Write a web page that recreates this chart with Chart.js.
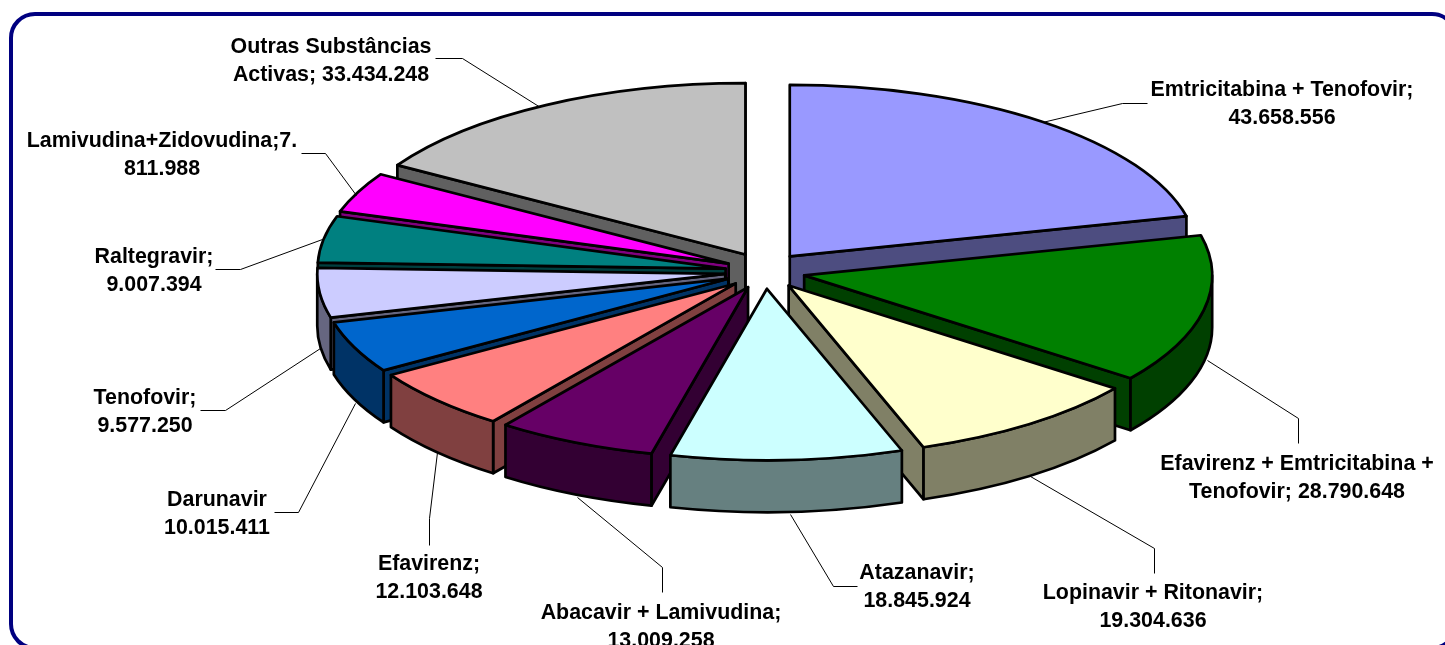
<!DOCTYPE html>
<html>
<head>
<meta charset="utf-8">
<title>Substâncias activas</title>
<script src="https://cdn.jsdelivr.net/npm/chart.js@4"></script>
<style>
  html, body { margin: 0; padding: 0; background: #fff; overflow: hidden; }
  #wrap { position: relative; width: 1445px; height: 645px; }
</style>
</head>
<body>
<div id="wrap"><canvas id="pie"></canvas></div>
<script>
// Data, clockwise from 12 o'clock
const categories = ['Emtricitabina + Tenofovir', 'Efavirenz + Emtricitabina + Tenofovir', 'Lopinavir + Ritonavir',
    'Atazanavir', 'Abacavir + Lamivudina', 'Efavirenz', 'Darunavir', 'Tenofovir', 'Raltegravir',
    'Lamivudina+Zidovudina', 'Outras Substâncias Activas'];
const values = [43658556, 28790648, 19304636, 18845924, 13009258, 12103648, 10015411, 9577250, 9007394, 7811988, 33434248];
const topColors = ['#9999FF', '#008000', '#FFFFCC', '#CCFFFF', '#660066', '#FF8080', '#0066CC', '#CCCCFF', '#008080', '#FF00FF', '#C0C0C0'];
const wallColors = ['#4D4D80', '#004000', '#808066', '#668080', '#330033', '#804040', '#003366', '#666680', '#004040', '#800080', '#606060'];

// Label text as wrapped in the original
const labelLines = [
    ['Emtricitabina + Tenofovir;', '43.658.556'],
    ['Efavirenz + Emtricitabina +', 'Tenofovir; 28.790.648'],
    ['Lopinavir + Ritonavir;', '19.304.636'],
    ['Atazanavir;', '18.845.924'],
    ['Abacavir + Lamivudina;', '13.009.258'],
    ['Efavirenz;', '12.103.648'],
    ['Darunavir', '10.015.411'],
    ['Tenofovir;', '9.577.250'],
    ['Raltegravir;', '9.007.394'],
    ['Lamivudina+Zidovudina;7.', '811.988'],
    ['Outras Substâncias', 'Activas; 33.434.248']
];
// Where each label sits (centre x, first line y) and its leader line
const labelAt = [[1282, 90], [1297, 464], [1153, 593], [917, 573], [661, 613], [429, 564], [217, 500], [145, 398], [154, 257], [162, 141], [331, 47]];
const leaders = [
    [[1042, 122], [1122, 103], [1147, 103]],
    [[1207, 360], [1298, 418], [1298, 443]],
    [[1030, 476], [1154, 548], [1154, 573]],
    [[790, 514], [833, 586], [857, 586]],
    [[577, 497], [662, 567], [662, 592]],
    [[437, 452], [429, 518], [429, 545]],
    [[355, 403], [298, 512], [274, 512]],
    [[320, 348], [225, 410], [200, 410]],
    [[322, 239], [240, 269], [215, 269]],
    [[356, 195], [325, 153], [301, 153]],
    [[540, 107], [462, 58], [435, 58]]
];

const TILT = 0.42;      // vertical squash of the pie
const BACK_LIFT = 0.5;  // back slices explode a bit further up, stands in for the perspective
const DEPTH = 52;       // wall height in px

// Draws the library's arcs as tilted, extruded slices
const pie3d = {
    id: 'pie3d',
    beforeDraw(chart) {
        const ctx = chart.ctx;
        ctx.save();
        ctx.fillStyle = '#fff';
        ctx.fillRect(0, 0, chart.width, chart.height);
        ctx.beginPath();
        ctx.roundRect(11, 14, 1445, 634, 24);
        ctx.lineWidth = 4;
        ctx.strokeStyle = '#000080';
        ctx.stroke();
        ctx.restore();
    },
    beforeDatasetDraw(chart) {
        const ctx = chart.ctx;
        const arcs = chart.getDatasetMeta(0).data;
        const order = arcs.map((a, i) => i).sort((p, q) => {
            const mid = (a) => Math.sin((a.startAngle + a.endAngle) / 2);
            return mid(arcs[p]) - mid(arcs[q]);
        });

        ctx.save();
        ctx.lineWidth = 2.7;
        ctx.lineJoin = 'round';
        ctx.strokeStyle = '#000';
        order.forEach((i) => {
            const a = arcs[i];
            const midAngle = (a.startAngle + a.endAngle) / 2;
            const lift = Math.sin(midAngle) < 0 ? BACK_LIFT : TILT;
            const cx = a.x + Math.cos(midAngle) * a.options.offset;
            const cy = a.y + Math.sin(midAngle) * a.options.offset * lift;
            const rx = a.outerRadius;
            const ry = rx * TILT;
            const pt = (ang) => [cx + Math.cos(ang) * rx, cy + Math.sin(ang) * ry];

            const paint = () => {
                ctx.fillStyle = wallColors[i];
                ctx.fill();
                ctx.stroke();
            };
            const radialWall = (ang) => {
                const p = pt(ang);
                ctx.beginPath();
                ctx.moveTo(cx, cy);
                ctx.lineTo(p[0], p[1]);
                ctx.lineTo(p[0], p[1] + DEPTH);
                ctx.lineTo(cx, cy + DEPTH);
                ctx.closePath();
                paint();
            };

            // only the walls facing the viewer
            if (Math.cos(a.startAngle) < 0) radialWall(a.startAngle);
            if (Math.cos(a.endAngle) > 0) radialWall(a.endAngle);
            const from = Math.max(a.startAngle, 0);
            const to = Math.min(a.endAngle, Math.PI);
            if (to > from) {
                ctx.beginPath();
                ctx.ellipse(cx, cy, rx, ry, 0, from, to);
                ctx.ellipse(cx, cy + DEPTH, rx, ry, 0, to, from, true);
                ctx.closePath();
                paint();
            }

            // top face
            ctx.beginPath();
            ctx.moveTo(cx, cy);
            ctx.ellipse(cx, cy, rx, ry, 0, a.startAngle, a.endAngle);
            ctx.closePath();
            ctx.fillStyle = topColors[i];
            ctx.fill();
            ctx.stroke();
        });
        ctx.restore();
        return false;
    },
    afterDatasetsDraw(chart) {
        const ctx = chart.ctx;
        ctx.save();
        ctx.lineWidth = 1;
        ctx.strokeStyle = '#000';
        leaders.forEach((line) => {
            ctx.beginPath();
            line.forEach((p, k) => (k ? ctx.lineTo(p[0] + 0.5, p[1] + 0.5) : ctx.moveTo(p[0] + 0.5, p[1] + 0.5)));
            ctx.stroke();
        });
        ctx.fillStyle = '#000';
        ctx.font = 'bold 21.4px "Liberation Sans", Arial, sans-serif';
        ctx.textAlign = 'center';
        ctx.textBaseline = 'middle';
        labelLines.forEach((lines, i) => {
            lines.forEach((text, k) => ctx.fillText(text, labelAt[i][0], labelAt[i][1] + k * 28));
        });
        ctx.restore();
    }
};

new Chart(document.getElementById('pie'), {
    type: 'pie',
    data: {
        labels: categories,
        datasets: [{
            data: values,
            backgroundColor: topColors,
            borderColor: '#000',
            borderWidth: 2,
            offset: 40
        }]
    },
    options: {
        responsive: true,
        maintainAspectRatio: false,
        animation: false,
        radius: 408,
        events: [],
        // puts the pie centre at 765,272
        layout: { padding: { left: 85, bottom: 101 } },
        plugins: {
            legend: { display: false },
            tooltip: { enabled: false }
        }
    },
    plugins: [pie3d]
});
</script>
</body>
</html>
